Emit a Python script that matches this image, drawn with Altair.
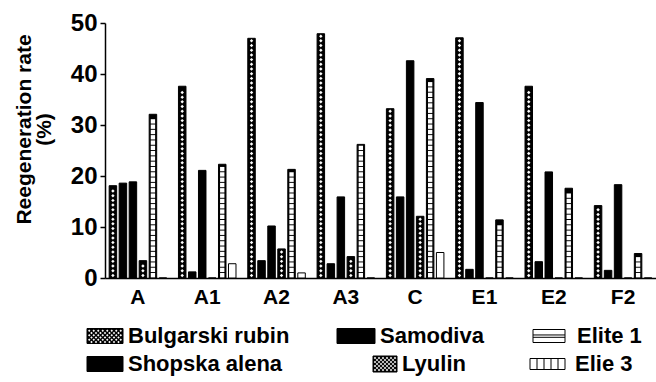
import altair as alt
import pandas as pd

# ---- data -----------------------------------------------------------------
groups = ["A", "A1", "A2", "A3", "C", "E1", "E2", "F2"]
series = ["Bulgarski rubin", "Shopska alena", "Samodiva", "Lyulin", "Elite 1", "Elie 3"]

bulgarski_rubin = [18.1, 37.6, 47.0, 47.9, 33.2, 47.1, 37.6, 14.2]
shopska_alena = [18.6, 1.2, 3.4, 2.8, 15.9, 1.7, 3.2, 1.5]
samodiva = [18.85, 21.1, 10.2, 15.9, 42.6, 34.4, 20.8, 18.3]
lyulin = [3.4, 0.0, 5.7, 4.2, 12.1, 0.0, 0.0, 0.0]
elite_1 = [32.1, 22.3, 21.3, 26.2, 39.1, 11.4, 17.6, 4.8]
elie_3 = [0.0, 2.8, 1.0, 0.0, 5.0, 0.0, 0.0, 0.0]

y_ticks = [0, 10, 20, 30, 40, 50]

values_by_series = [bulgarski_rubin, shopska_alena, samodiva, lyulin, elite_1, elie_3]
df = pd.DataFrame(
    [
        {"group": g, "series": s, "value": v}
        for s, vals in zip(series, values_by_series)
        for g, v in zip(groups, vals)
    ]
)

# ---- styling ----------------------------------------------------------------
FONT = "Liberation Sans"
bar_fills = ["black", "black", "black", "black", "black", "white"]
swatch_fills = ["black", "black", "black", "black", "white", "white"]
fill_scale = alt.Scale(domain=series, range=bar_fills)
y_title = ["Reegeneration rate", "(%)"]

y_axis = alt.Axis(
    values=y_ticks,
    title=y_title,
    grid=False,
    labelFontSize=24,
    labelFontWeight="bold",
    labelFont=FONT,
    labelColor="black",
    labelPadding=3,
    tickSize=5,
    tickWidth=1.5,
    tickColor="black",
    domainColor="black",
    domainWidth=1.5,
    titleFont=FONT,
    titleFontSize=21,
    titleFontWeight="bold",
    titleColor="black",
    titleLineHeight=20,
    titleX=-71,
    titleY=106,
    titleBaseline="bottom",
)
y_enc = dict(scale=alt.Scale(domain=[0, 50], nice=False), axis=y_axis)

base = alt.Chart(df).encode(
    x=alt.X(
        "group:N",
        sort=groups,
        scale=alt.Scale(paddingInner=0.17, paddingOuter=0.06),
        axis=alt.Axis(
            title=None,
            labelAngle=0,
            ticks=False,
            labelFontSize=21,
            labelFontWeight="bold",
            labelFont=FONT,
            labelColor="black",
            labelPadding=8,
            domainColor="black",
            domainWidth=1.5,
        ),
    ),
    xOffset=alt.XOffset(
        "series:N", sort=series,
        scale=alt.Scale(domain=series, paddingInner=0.25, paddingOuter=0),
    ),
)

bars = base.mark_bar(stroke="black", strokeWidth=1).encode(
    y=alt.Y("value:Q", **y_enc),
    fill=alt.Fill("series:N", scale=fill_scale, legend=None),
)

# crosshatch texture: white diamonds stacked up the hatched bars
hatch = (
    base.transform_filter(
        alt.FieldOneOfPredicate(field="series", oneOf=["Bulgarski rubin", "Lyulin"])
    )
    .transform_calculate(s="sequence(0.5, datum.value - 0.3, 0.92)")
    .transform_flatten(["s"])
    .mark_point(shape="diamond", filled=True, color="white", size=12, opacity=1, strokeWidth=0)
    .encode(y=alt.Y("s:Q", **y_enc))
)

# ladder texture for the horizontally striped bars
ladder = (
    base.transform_filter(alt.FieldEqualPredicate(field="series", equal="Elite 1"))
    .transform_calculate(s="sequence(0.55, datum.value - 0.45, 1.04)")
    .transform_flatten(["s"])
    .mark_point(shape="square", filled=True, color="white", size=19, opacity=1, strokeWidth=0)
    .encode(y=alt.Y("s:Q", **y_enc))
)

# ---- legend (pixel layout below the plot) ----------------------------------
sw_left = [-18, -18, 232, 268, 428, 425]
sw_right = [18, 18, 270, 292, 460, 460]
row_mid = [313, 341, 313, 341, 313, 341]
sw_half = [7.5, 7.5, 7.5, 8.0, 6.5, 5.5]
text_left = [23, 23, 275, 297, 472, 470]

leg_df = pd.DataFrame(
    {
        "series": series,
        "lfill": swatch_fills,
        "x0": sw_left,
        "x1": sw_right,
        "y0": [m - h for m, h in zip(row_mid, sw_half)],
        "y1": [m + h for m, h in zip(row_mid, sw_half)],
        "tx": text_left,
        "ty": row_mid,
    }
)

px = dict(scale=None)

leg_rect = alt.Chart(leg_df).mark_rect(stroke="black", strokeWidth=1).encode(
    x=alt.X("x0:Q", **px),
    x2="x1:Q",
    y=alt.Y("y0:Q", **px),
    y2="y1:Q",
    fill=alt.Fill("lfill:N", scale=None),
)

# diamond grid inside the hatched swatches
dots = []
for i, step in ((0, 4.5), (3, 4.0)):
    xx = sw_left[i] + step / 2
    while xx < sw_right[i]:
        yy = row_mid[i] - sw_half[i] + step / 2
        k = 0
        while yy < row_mid[i] + sw_half[i]:
            cx = xx + (step / 2 if k % 2 else 0)
            if cx < sw_right[i] - 0.5:
                dots.append({"px": cx, "py": yy})
            yy += step / 2
            k += 1
        xx += step
leg_dots = alt.Chart(pd.DataFrame(dots)).mark_point(
    shape="diamond", filled=True, color="white", size=6, opacity=1, strokeWidth=0
).encode(x=alt.X("px:Q", **px), y=alt.Y("py:Q", **px))

# stripes inside the "Elite 1" and "Elie 3" swatches
lines = []
for frac in (0.42, 0.6):
    yy = row_mid[4] - sw_half[4] + frac * 2 * sw_half[4]
    lines.append({"a": sw_left[4], "b": sw_right[4], "c": yy, "d": yy})
n_v = 5
for j in range(1, n_v):
    xx = sw_left[5] + j * (sw_right[5] - sw_left[5]) / n_v
    lines.append({"a": xx, "b": xx, "c": row_mid[5] - sw_half[5], "d": row_mid[5] + sw_half[5]})
leg_lines = alt.Chart(pd.DataFrame(lines)).mark_rule(color="black", strokeWidth=1).encode(
    x=alt.X("a:Q", **px), x2="b:Q", y=alt.Y("c:Q", **px), y2="d:Q"
)

leg_text = alt.Chart(leg_df).mark_text(
    align="left", baseline="middle", fontSize=22, fontWeight="bold", font=FONT, color="black"
).encode(x=alt.X("tx:Q", **px), y=alt.Y("ty:Q", **px), text="series:N")

chart = (
    alt.layer(bars, hatch, ladder, leg_rect, leg_dots, leg_lines, leg_text)
    .properties(
        width=551,
        height=255,
        autosize=alt.AutoSizeParams(type="none"),
        padding={"left": 105, "top": 23, "right": 0, "bottom": 104},
        background="white",
    )
    .configure_view(stroke=None)
)

chart.save("out.html", embed_options={"renderer": "svg", "actions": False})
